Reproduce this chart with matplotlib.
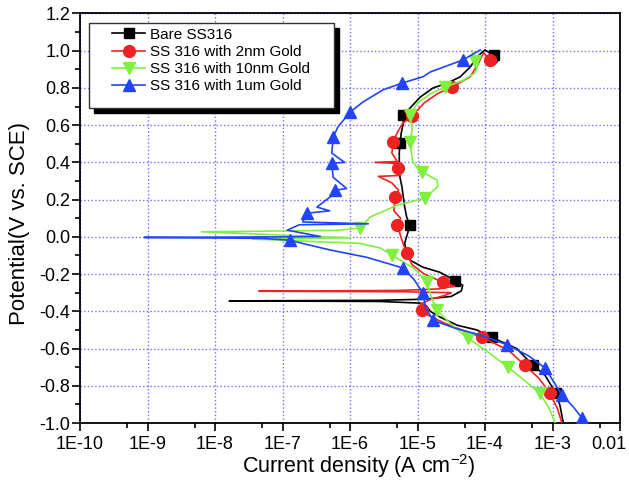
import matplotlib
matplotlib.use('Agg')
import matplotlib.pyplot as plt
import numpy as np
from matplotlib.patches import Rectangle
from matplotlib.transforms import ScaledTranslation
from matplotlib.ticker import FixedLocator, MultipleLocator, FormatStrFormatter

plt.rcParams['font.family'] = ['Liberation Sans', 'DejaVu Sans']
plt.rcParams['mathtext.default'] = 'regular'

# log10 of current density (A cm-2) and potential (V vs. SCE)
bare_logi = [-2.84, -2.89, -2.95, -3.11, -3.29, -3.53, -3.90, -4.12, -4.41, -4.67, -4.81, -4.87, -4.96,
             -5.56, -7.79, -5.60, -4.90, -4.50, -4.35, -4.33, -4.44, -4.67, -4.92, -5.11, -5.16, -5.19,
             -5.11, -5.16, -5.19, -5.21, -5.23, -5.26, -5.27, -5.27, -5.26, -5.24, -5.21, -5.21, -5.11,
             -4.96, -4.77, -4.56, -4.37, -4.22, -4.12, -4.04, -4.00, -3.87, -3.82, -3.88]
bare_e = [-1.00, -0.905, -0.84, -0.744, -0.69, -0.60, -0.54, -0.50, -0.475, -0.43, -0.40, -0.37, -0.356,
          -0.347, -0.344, -0.341, -0.335, -0.32, -0.29, -0.26, -0.235, -0.19, -0.163, -0.125, -0.088, -0.034,
          0.063, 0.106, 0.16, 0.213, 0.267, 0.321, 0.375, 0.45, 0.504, 0.56, 0.611, 0.654, 0.692,
          0.751, 0.80, 0.826, 0.859, 0.912, 0.966, 0.993, 1.004, 0.975, 0.94, 0.923]
bare_marks = [2, 4, 6, 20, 26, 34, 37, 47]

gold2_logi = [-2.86, -2.93, -3.04, -3.20, -3.41, -3.65, -4.04, -4.35, -4.62, -4.85, -4.93, -4.95, -4.80,
              -4.60, -4.50, -5.20, -7.35, -5.30, -4.70, -4.45, -4.62, -4.90, -5.08, -5.16, -5.22, -5.30,
              -5.25, -5.35, -5.33, -5.28, -5.38, -5.58, -5.25, -5.29, -5.30, -5.63, -5.30, -5.38, -5.36,
              -5.30, -5.22, -5.08, -4.90, -4.70, -4.49, -4.22, -4.10, -4.02, -3.93]
gold2_e = [-1.00, -0.92, -0.84, -0.76, -0.69, -0.61, -0.54, -0.50, -0.46, -0.42, -0.394, -0.36, -0.335,
           -0.315, -0.30, -0.295, -0.292, -0.288, -0.28, -0.265, -0.244, -0.20, -0.15, -0.088, -0.03, 0.063,
           0.10, 0.14, 0.213, 0.25, 0.29, 0.325, 0.33, 0.37, 0.395, 0.40, 0.405, 0.45, 0.51,
           0.56, 0.61, 0.65, 0.72, 0.77, 0.805, 0.86, 0.93, 0.99, 0.95]
gold2_marks = [2, 4, 6, 10, 20, 23, 25, 28, 33, 38, 41, 44, 48]

gold10_logi = [-2.96, -3.05, -3.19, -3.42, -3.66, -3.95, -4.25, -4.50, -4.71, -4.80, -4.86, -5.05, -5.38,
               -5.55, -5.85, -7.44, -6.00, -8.20, -6.20, -5.85, -5.70, -5.30, -4.89, -4.70, -4.71, -4.93,
               -5.07, -5.09, -5.11, -5.08, -5.11, -5.00, -4.80, -4.59, -4.33, -4.15, -4.10, -4.15, -4.19]
gold10_e = [-1.00, -0.92, -0.84, -0.77, -0.70, -0.62, -0.545, -0.47, -0.394, -0.32, -0.244, -0.17, -0.098,
            -0.06, -0.035, -0.012, -0.005, 0.027, 0.035, 0.047, 0.107, 0.17, 0.208, 0.27, 0.305, 0.348,
            0.40, 0.45, 0.51, 0.58, 0.654, 0.72, 0.77, 0.805, 0.84, 0.88, 0.93, 0.945, 1.00]
gold10_marks = [2, 4, 6, 8, 10, 12, 19, 22, 25, 28, 30, 33, 37]

gold1um_logi = [-2.52, -2.56, -2.70, -2.86, -2.98, -3.11, -3.35, -3.67, -4.05, -4.45, -4.77, -4.88, -4.92,
                -5.05, -5.21, -5.75, -6.30, -6.65, -6.89, -7.30, -9.05, -7.00, -6.44, -6.93, -6.75, -5.73,
                -6.70, -6.64, -6.30, -6.49, -6.30, -6.22, -6.05, -6.25, -6.27, -6.08, -6.27, -6.25, -6.18,
                -6.00, -5.81, -5.51, -5.23, -4.92, -4.81, -4.33, -4.07]
gold1um_e = [-1.00, -0.975, -0.91, -0.85, -0.78, -0.705, -0.64, -0.58, -0.53, -0.49, -0.448, -0.38, -0.303,
             -0.23, -0.168, -0.11, -0.07, -0.04, -0.018, -0.008, -0.003, 0.0, 0.002, 0.036, 0.065, 0.07,
             0.08, 0.127, 0.14, 0.16, 0.213, 0.25, 0.26, 0.32, 0.396, 0.40, 0.45, 0.536, 0.59,
             0.67, 0.724, 0.79, 0.826, 0.86, 0.886, 0.95, 1.004]
gold1um_marks = [1, 3, 5, 7, 10, 12, 14, 18, 27, 31, 34, 37, 39, 42, 45]

labels = ['Bare SS316', 'SS 316 with 2nm Gold', 'SS 316 with 10nm Gold', 'SS 316 with 1um Gold']
xtick_vals = [1e-10, 1e-9, 1e-8, 1e-7, 1e-6, 1e-5, 1e-4, 1e-3, 1e-2]
xtick_labels = ['1E-10', '1E-9', '1E-8', '1E-7', '1E-6', '1E-5', '1E-4', '1E-3', '0.01']

series = [
    (bare_logi, bare_e, bare_marks, '#000000', 's', 7),
    (gold2_logi, gold2_e, gold2_marks, '#ee2222', 'o', 8.5),
    (gold10_logi, gold10_e, gold10_marks, '#80f040', 'v', 9),
    (gold1um_logi, gold1um_e, gold1um_marks, '#2244ff', '^', 9),
]

fig = plt.figure(figsize=(6.29, 4.87), dpi=100)
ax = fig.add_axes([0.1272, 0.1314, 0.8585, 0.8409])

for (logi, e, marks, col, mk, ms), lab in zip(series, labels):
    ax.plot(10 ** np.array(logi), e, color=col, lw=1.2, marker=mk, ms=ms,
            markevery=marks, mfc=col, mec=col, label=lab, zorder=3)

ax.set_xscale('log')
ax.set_xlim(1e-10, 1e-2)
ax.set_ylim(-1.0, 1.2)
ax.xaxis.set_major_locator(FixedLocator(xtick_vals))
ax.set_xticklabels(xtick_labels)
ax.xaxis.set_minor_locator(FixedLocator([5 * v for v in xtick_vals[:-1]]))
ax.yaxis.set_major_locator(MultipleLocator(0.2))
ax.yaxis.set_minor_locator(MultipleLocator(0.1))
ax.yaxis.set_major_formatter(FormatStrFormatter('%.1f'))

ax.tick_params(which='major', direction='out', length=5.5, width=1.2, labelsize=13, colors='black')
ax.tick_params(which='minor', direction='out', length=3.5, width=1.2)
ax.tick_params(axis='x', which='major', pad=4)
ax.tick_params(axis='y', which='major', pad=1.5)
for sp in ax.spines.values():
    sp.set_linewidth(1.3)

# last x label sits at the figure edge, nudge it left a little
last = ax.get_xticklabels()[-1]
last.set_transform(last.get_transform() + ScaledTranslation(-8 / 72, 0, fig.dpi_scale_trans))

ax.grid(True, which='major', color='#6f6fff', ls=':', lw=1.0, zorder=0)

ax.set_xlabel('Current density (A cm$^{-2}$)', fontsize=15.5)
ax.set_ylabel('Potential(V vs. SCE)', fontsize=16)
ax.xaxis.set_label_coords(0.517, -0.072)
ax.yaxis.set_label_coords(-0.093, 0.487)

# legend box with hard black shadow
ax.add_patch(Rectangle((0.0167 + 0.0093, 0.769 - 0.0122), 0.4533, 0.2085, transform=ax.transAxes,
                       facecolor='black', edgecolor='black', zorder=5))
ax.add_patch(Rectangle((0.0167, 0.769), 0.4533, 0.2085, transform=ax.transAxes,
                       facecolor='white', edgecolor='#333333', lw=1.0, zorder=6))
leg = ax.legend(loc='upper left', bbox_to_anchor=(0.059, 0.965), borderaxespad=0, borderpad=0,
                fontsize=11, handlelength=2.2, handletextpad=0.3, labelspacing=0.2, frameon=False)
leg.set_zorder(7)

fig.savefig('out.png', dpi=100)
